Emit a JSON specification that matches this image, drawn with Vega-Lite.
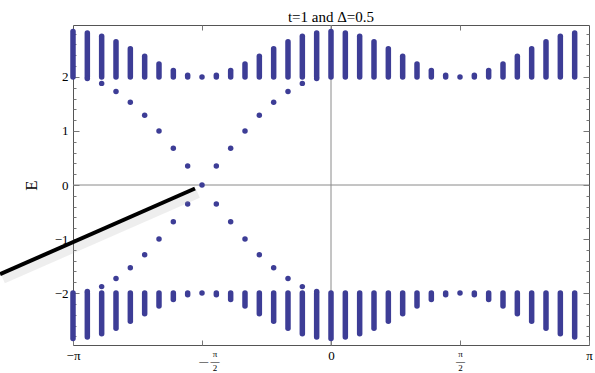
{
  "$schema": "https://vega.github.io/schema/vega-lite/v6.json",
  "width": 516,
  "height": 320,
  "autosize": {"type": "none"},
  "padding": {"left": 73, "top": 25, "right": 6, "bottom": 28},
  "background": "white",
  "config": {"view": {"stroke": "#555", "strokeWidth": 1}, "font": "Liberation Serif"},
  "title": {"text": "t=1 and Δ=0.5", "font": "Liberation Serif", "fontSize": 15, "fontWeight": "normal", "anchor": "middle", "offset": 5, "dy": 17, "baseline": "alphabetic", "color": "#000"},
  "datasets": {
    "bands": [
      {"k": -3.14159, "lo": 2.0, "hi": 2.84}, {"k": -3.14159, "lo": -2.84, "hi": -2.0},
      {"k": -2.96706, "lo": 2.0, "hi": 2.81}, {"k": -2.96706, "lo": -2.81, "hi": -2.0},
      {"k": -2.79253, "lo": 2.0, "hi": 2.75}, {"k": -2.79253, "lo": -2.75, "hi": -2.0},
      {"k": -2.61799, "lo": 2.0, "hi": 2.65}, {"k": -2.61799, "lo": -2.65, "hi": -2.0},
      {"k": -2.44346, "lo": 2.0, "hi": 2.52}, {"k": -2.44346, "lo": -2.52, "hi": -2.0},
      {"k": -2.26893, "lo": 2.0, "hi": 2.38}, {"k": -2.26893, "lo": -2.38, "hi": -2.0},
      {"k": -2.0944, "lo": 2.0, "hi": 2.24}, {"k": -2.0944, "lo": -2.24, "hi": -2.0},
      {"k": -1.91986, "lo": 2.0, "hi": 2.12}, {"k": -1.91986, "lo": -2.12, "hi": -2.0},
      {"k": -1.74533, "lo": 2.0, "hi": 2.03}, {"k": -1.74533, "lo": -2.03, "hi": -2.0},
      {"k": -1.5708, "lo": 2.0, "hi": 2.0}, {"k": -1.5708, "lo": -2.0, "hi": -2.0},
      {"k": -1.39626, "lo": 2.0, "hi": 2.03}, {"k": -1.39626, "lo": -2.03, "hi": -2.0},
      {"k": -1.22173, "lo": 2.0, "hi": 2.12}, {"k": -1.22173, "lo": -2.12, "hi": -2.0},
      {"k": -1.0472, "lo": 2.0, "hi": 2.24}, {"k": -1.0472, "lo": -2.24, "hi": -2.0},
      {"k": -0.87266, "lo": 2.0, "hi": 2.38}, {"k": -0.87266, "lo": -2.38, "hi": -2.0},
      {"k": -0.69813, "lo": 2.0, "hi": 2.52}, {"k": -0.69813, "lo": -2.52, "hi": -2.0},
      {"k": -0.5236, "lo": 2.0, "hi": 2.65}, {"k": -0.5236, "lo": -2.65, "hi": -2.0},
      {"k": -0.34907, "lo": 2.0, "hi": 2.75}, {"k": -0.34907, "lo": -2.75, "hi": -2.0},
      {"k": -0.17453, "lo": 2.0, "hi": 2.81}, {"k": -0.17453, "lo": -2.81, "hi": -2.0},
      {"k": 0, "lo": 2.0, "hi": 2.84}, {"k": 0, "lo": -2.84, "hi": -2.0},
      {"k": 0.17453, "lo": 2.0, "hi": 2.81}, {"k": 0.17453, "lo": -2.81, "hi": -2.0},
      {"k": 0.34907, "lo": 2.0, "hi": 2.75}, {"k": 0.34907, "lo": -2.75, "hi": -2.0},
      {"k": 0.5236, "lo": 2.0, "hi": 2.65}, {"k": 0.5236, "lo": -2.65, "hi": -2.0},
      {"k": 0.69813, "lo": 2.0, "hi": 2.52}, {"k": 0.69813, "lo": -2.52, "hi": -2.0},
      {"k": 0.87266, "lo": 2.0, "hi": 2.38}, {"k": 0.87266, "lo": -2.38, "hi": -2.0},
      {"k": 1.0472, "lo": 2.0, "hi": 2.24}, {"k": 1.0472, "lo": -2.24, "hi": -2.0},
      {"k": 1.22173, "lo": 2.0, "hi": 2.12}, {"k": 1.22173, "lo": -2.12, "hi": -2.0},
      {"k": 1.39626, "lo": 2.0, "hi": 2.03}, {"k": 1.39626, "lo": -2.03, "hi": -2.0},
      {"k": 1.5708, "lo": 2.0, "hi": 2.0}, {"k": 1.5708, "lo": -2.0, "hi": -2.0},
      {"k": 1.74533, "lo": 2.0, "hi": 2.03}, {"k": 1.74533, "lo": -2.03, "hi": -2.0},
      {"k": 1.91986, "lo": 2.0, "hi": 2.12}, {"k": 1.91986, "lo": -2.12, "hi": -2.0},
      {"k": 2.0944, "lo": 2.0, "hi": 2.24}, {"k": 2.0944, "lo": -2.24, "hi": -2.0},
      {"k": 2.26893, "lo": 2.0, "hi": 2.38}, {"k": 2.26893, "lo": -2.38, "hi": -2.0},
      {"k": 2.44346, "lo": 2.0, "hi": 2.52}, {"k": 2.44346, "lo": -2.52, "hi": -2.0},
      {"k": 2.61799, "lo": 2.0, "hi": 2.65}, {"k": 2.61799, "lo": -2.65, "hi": -2.0},
      {"k": 2.79253, "lo": 2.0, "hi": 2.75}, {"k": 2.79253, "lo": -2.75, "hi": -2.0},
      {"k": 2.96706, "lo": 2.0, "hi": 2.81}, {"k": 2.96706, "lo": -2.81, "hi": -2.0}
    ],
    "edge": [
      {"k": -2.96706, "E": 1.97}, {"k": -2.96706, "E": -1.97},
      {"k": -2.79253, "E": 1.88}, {"k": -2.79253, "E": -1.88},
      {"k": -2.61799, "E": 1.73}, {"k": -2.61799, "E": -1.73},
      {"k": -2.44346, "E": 1.53}, {"k": -2.44346, "E": -1.53},
      {"k": -2.26893, "E": 1.29}, {"k": -2.26893, "E": -1.29},
      {"k": -2.0944, "E": 1.0}, {"k": -2.0944, "E": -1.0},
      {"k": -1.91986, "E": 0.68}, {"k": -1.91986, "E": -0.68},
      {"k": -1.74533, "E": 0.35}, {"k": -1.74533, "E": -0.35},
      {"k": -1.5708, "E": 0.0},
      {"k": -1.39626, "E": 0.35}, {"k": -1.39626, "E": -0.35},
      {"k": -1.22173, "E": 0.68}, {"k": -1.22173, "E": -0.68},
      {"k": -1.0472, "E": 1.0}, {"k": -1.0472, "E": -1.0},
      {"k": -0.87266, "E": 1.29}, {"k": -0.87266, "E": -1.29},
      {"k": -0.69813, "E": 1.53}, {"k": -0.69813, "E": -1.53},
      {"k": -0.5236, "E": 1.73}, {"k": -0.5236, "E": -1.73},
      {"k": -0.34907, "E": 1.88}, {"k": -0.34907, "E": -1.88},
      {"k": -0.17453, "E": 1.97}, {"k": -0.17453, "E": -1.97}
    ],
    "origin": [{"k": 0, "E": 0}],
    "pointer": [{"k": -4.03, "E": -1.65}, {"k": -1.656, "E": -0.065}]
  },
  "layer": [
    {
      "data": {"name": "origin"},
      "mark": {"type": "rule", "color": "#8a8a8a", "strokeWidth": 1},
      "encoding": {
        "x": {"field": "k", "type": "quantitative", "axis": null}
      }
    },
    {
      "data": {"name": "origin"},
      "mark": {"type": "rule", "color": "#8a8a8a", "strokeWidth": 1},
      "encoding": {
        "y": {"field": "E", "type": "quantitative", "axis": null}
      }
    },
    {
      "data": {"name": "bands"},
      "mark": {"type": "rule", "strokeWidth": 5.5, "strokeCap": "round", "color": "#3d3d96"},
      "encoding": {
        "x": {
          "field": "k", "type": "quantitative",
          "scale": {"domain": [-3.14159, 3.14159], "nice": false, "zero": false},
          "axis": {
            "orient": "bottom", "title": null, "domain": false, "grid": false,
            "values": [-3.14159, -1.5708, 0, 1.5708, 3.14159],
            "tickSize": -5, "tickColor": "#777", "tickWidth": 1,
            "labelColor": "#000",
            "labelFont": "Liberation Serif",
            "labelFontSize": {"condition": {"test": "abs(datum.value) > 1 && abs(datum.value) < 2", "value": 9}, "value": 13},
            "labelLineHeight": 7,
            "labelPadding": 9,
            "labelFlush": false, "labelOverlap": false, "labelBound": false,
            "labelOffset": {"condition": {"test": "datum.value > -2 && datum.value < -1", "value": 7}, "value": 0},
            "labelExpr": "datum.value < -3 ? '−π' : datum.value < -1 ? ['\u200b\u00a0\u00a0\u00a0\u00a0\u00a0π', '—\u00a0—', '\u200b\u00a0\u00a0\u00a0\u00a0\u00a02'] : datum.value < 1 ? '0' : datum.value < 3 ? ['π', '—', '2'] : 'π'"
          }
        },
        "y": {
          "field": "lo", "type": "quantitative",
          "scale": {"domain": [-2.96, 2.96], "nice": false, "zero": false},
          "axis": {
            "orient": "left", "domain": false, "grid": false,
            "values": [-2.8, -2.6, -2.4, -2.2, -2, -1.8, -1.6, -1.4, -1.2, -1, -0.8, -0.6, -0.4, -0.2, 0, 0.2, 0.4, 0.6, 0.8, 1, 1.2, 1.4, 1.6, 1.8, 2, 2.2, 2.4, 2.6, 2.8],
            "tickSize": {"condition": {"test": "abs(datum.value - round(datum.value)) < 0.001", "value": -6}, "value": -3},
            "tickColor": "#777", "tickWidth": 1,
            "labelExpr": "abs(datum.value - round(datum.value)) < 0.001 ? replace(format(round(datum.value), 'd'), '-', '−') : ''",
            "labelFont": "Liberation Serif", "labelFontSize": 13, "labelColor": "#000",
            "labelPadding": 11, "labelOverlap": false, "labelFlush": false, "labelBound": false,
            "title": "E", "titleFont": "Liberation Serif", "titleFontSize": 17, "titleFontWeight": "normal", "titleColor": "#000",
            "titleX": -42, "titleY": 160, "titleAlign": "center", "titleBaseline": "middle", "titleAngle": 270
          }
        },
        "y2": {"field": "hi"}
      }
    },
    {
      "data": {"name": "edge"},
      "mark": {"type": "circle", "size": 30, "color": "#3d3d96", "opacity": 1},
      "encoding": {
        "x": {
          "field": "k", "type": "quantitative",
          "axis": {"orient": "top", "title": null, "domain": false, "grid": false, "labels": false,
            "values": [-1.5708, 0, 1.5708], "tickSize": -5, "tickColor": "#777", "tickWidth": 1}
        },
        "y": {
          "field": "E", "type": "quantitative",
          "axis": {"orient": "right", "title": null, "domain": false, "grid": false, "labels": false,
            "values": [-2.8, -2.6, -2.4, -2.2, -2, -1.8, -1.6, -1.4, -1.2, -1, -0.8, -0.6, -0.4, -0.2, 0, 0.2, 0.4, 0.6, 0.8, 1, 1.2, 1.4, 1.6, 1.8, 2, 2.2, 2.4, 2.6, 2.8],
            "tickSize": {"condition": {"test": "abs(datum.value - round(datum.value)) < 0.001", "value": -6}, "value": -3},
            "tickColor": "#777", "tickWidth": 1}
        }
      }
    },
    {
      "data": {"name": "pointer"},
      "mark": {"type": "line", "color": "#a0a0a0", "strokeWidth": 9, "opacity": 0.18, "xOffset": 3, "yOffset": 5, "clip": false},
      "encoding": {
        "x": {"field": "k", "type": "quantitative", "axis": null},
        "y": {"field": "E", "type": "quantitative", "axis": null}
      }
    },
    {
      "data": {"name": "pointer"},
      "mark": {"type": "line", "color": "#000", "strokeWidth": 4, "clip": false},
      "encoding": {
        "x": {"field": "k", "type": "quantitative", "axis": null},
        "y": {"field": "E", "type": "quantitative", "axis": null}
      }
    }
  ],
  "resolve": {"axis": {"x": "independent", "y": "independent"}}
}
